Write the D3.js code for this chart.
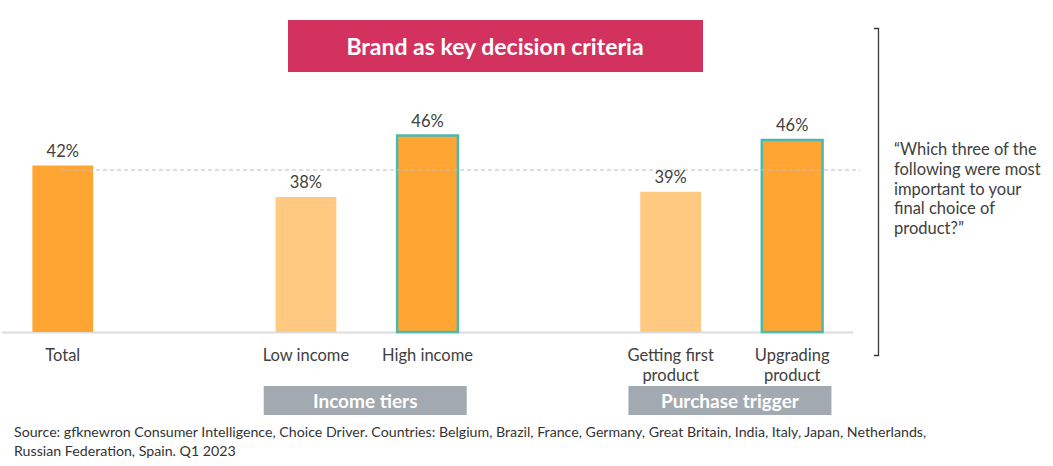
<!DOCTYPE html>
<html>
<head>
<meta charset="utf-8">
<script src="https://cdn.jsdelivr.net/npm/d3@7"></script>
<style>
  body { margin: 0; background: #fff; }
  svg { font-family: Lato, "Open Sans", sans-serif; }
</style>
</head>
<body>
<svg id="chart" width="1053" height="466"></svg>
<script>
// data
const categories = ["Total", "_gap1", "Low income", "High income", "_gap2", "Getting first product", "Upgrading product"]
const labelLines = {
  "Total": ["Total"],
  "Low income": ["Low income"],
  "High income": ["High income"],
  "Getting first product": ["Getting first", "product"],
  "Upgrading product": ["Upgrading", "product"]
}
const barNames = ["Total", "Low income", "High income", "Getting first product", "Upgrading product"]
const barValues = [42.2, 38, 46.2, 38.7, 45.6]
const barKind = ["dark", "light", "highlight", "light", "highlight"]
const totalRef = 41.6
const groups = [
  { name: "Income tiers", members: ["Low income", "High income"] },
  { name: "Purchase trigger", members: ["Getting first product", "Upgrading product"] }
]
const question = ["\u201cWhich three of the", "following were most", "important to your", "final choice of", "product?\u201d"]
const source = [
  "Source: gfknewron Consumer Intelligence, Choice Driver. Countries: Belgium, Brazil, France, Germany, Great Britain, India, Italy, Japan, Netherlands,",
  "Russian Federation, Spain. Q1 2023"
]

const dark = "#FFA533", light = "#FFC982", teal = "#4DB8B0", txt = "#404040"

const svg = d3.select("#chart")

const x = d3.scaleBand().domain(categories).range([2, 853]).paddingInner(0.5).paddingOuter(0.25)
const y = d3.scaleLinear().domain([20, 60]).range([332, 32])

// title box
svg.append("rect").attr("x", 288).attr("y", 20).attr("width", 415).attr("height", 52).attr("fill", "#D4325E")
svg.append("text").attr("x", 495).attr("y", 54.5).attr("text-anchor", "middle")
  .attr("fill", "#fff").style("font-size", "23px").style("font-weight", 700)
  .text("Brand as key decision criteria")

// baseline
svg.append("line").attr("x1", 2).attr("x2", 853).attr("y1", 332.5).attr("y2", 332.5)
  .attr("stroke", "#dcdcdc").attr("stroke-width", 2)

const data = barNames.map((n, i) => ({ name: n, value: barValues[i], kind: barKind[i] }))

// bars
svg.selectAll("rect.bar").data(data).join("rect")
  .attr("class", "bar")
  .attr("x", d => x(d.name))
  .attr("width", x.bandwidth())
  .attr("y", d => y(d.value))
  .attr("height", d => y(20) - y(d.value))
  .attr("fill", d => d.kind == "light" ? light : dark)
  .attr("stroke", d => d.kind == "highlight" ? teal : "none")
  .attr("stroke-width", 2.5)

// reference line at total
svg.append("line").attr("x1", 61).attr("x2", 860).attr("y1", y(totalRef)).attr("y2", y(totalRef))
  .attr("stroke", "#b8bcc8").attr("stroke-width", 1).attr("stroke-dasharray", "4,3")

// value labels
svg.selectAll("text.val").data(data).join("text")
  .attr("class", "val")
  .attr("x", d => x(d.name) + x.bandwidth() / 2)
  .attr("y", d => y(d.value) - 9)
  .attr("text-anchor", "middle")
  .attr("fill", txt).style("font-size", "16.5px")
  .text(d => Math.round(d.value) + "%")

// category labels
barNames.forEach(n => {
  const t = svg.append("text")
    .attr("x", x(n) + x.bandwidth() / 2).attr("y", 361)
    .attr("text-anchor", "middle").attr("fill", txt).style("font-size", "16.5px")
  labelLines[n].forEach((l, i) => {
    t.append("tspan").attr("x", x(n) + x.bandwidth() / 2).attr("dy", i ? 19.5 : 0).text(l)
  })
})

// group boxes
groups.forEach(g => {
  const cx = d3.mean(g.members, m => x(m) + x.bandwidth() / 2)
  svg.append("rect").attr("x", cx - 103).attr("y", 386).attr("width", 203).attr("height", 29).attr("fill", "#A3A9B0")
  svg.append("text").attr("x", cx - 1.5).attr("y", 407.5).attr("text-anchor", "middle")
    .attr("fill", "#fff").style("font-size", "19px").style("font-weight", 700).text(g.name)
})

// bracket
svg.append("path").attr("d", "M874,28.5H878.5V355.5H874")
  .attr("fill", "none").attr("stroke", "#3a3a3a").attr("stroke-width", 1.3)

// question
const q = svg.append("text").attr("x", 894).attr("y", 155).attr("fill", txt).style("font-size", "16.5px")
question.forEach((l, i) => q.append("tspan").attr("x", 894).attr("dy", i ? 19.8 : 0).text(l))

// source
const s = svg.append("text").attr("x", 14).attr("y", 437).attr("fill", "#333").style("font-size", "14.2px")
source.forEach((l, i) => s.append("tspan").attr("x", 14).attr("dy", i ? 19 : 0).text(l))
</script>
</body>
</html>
